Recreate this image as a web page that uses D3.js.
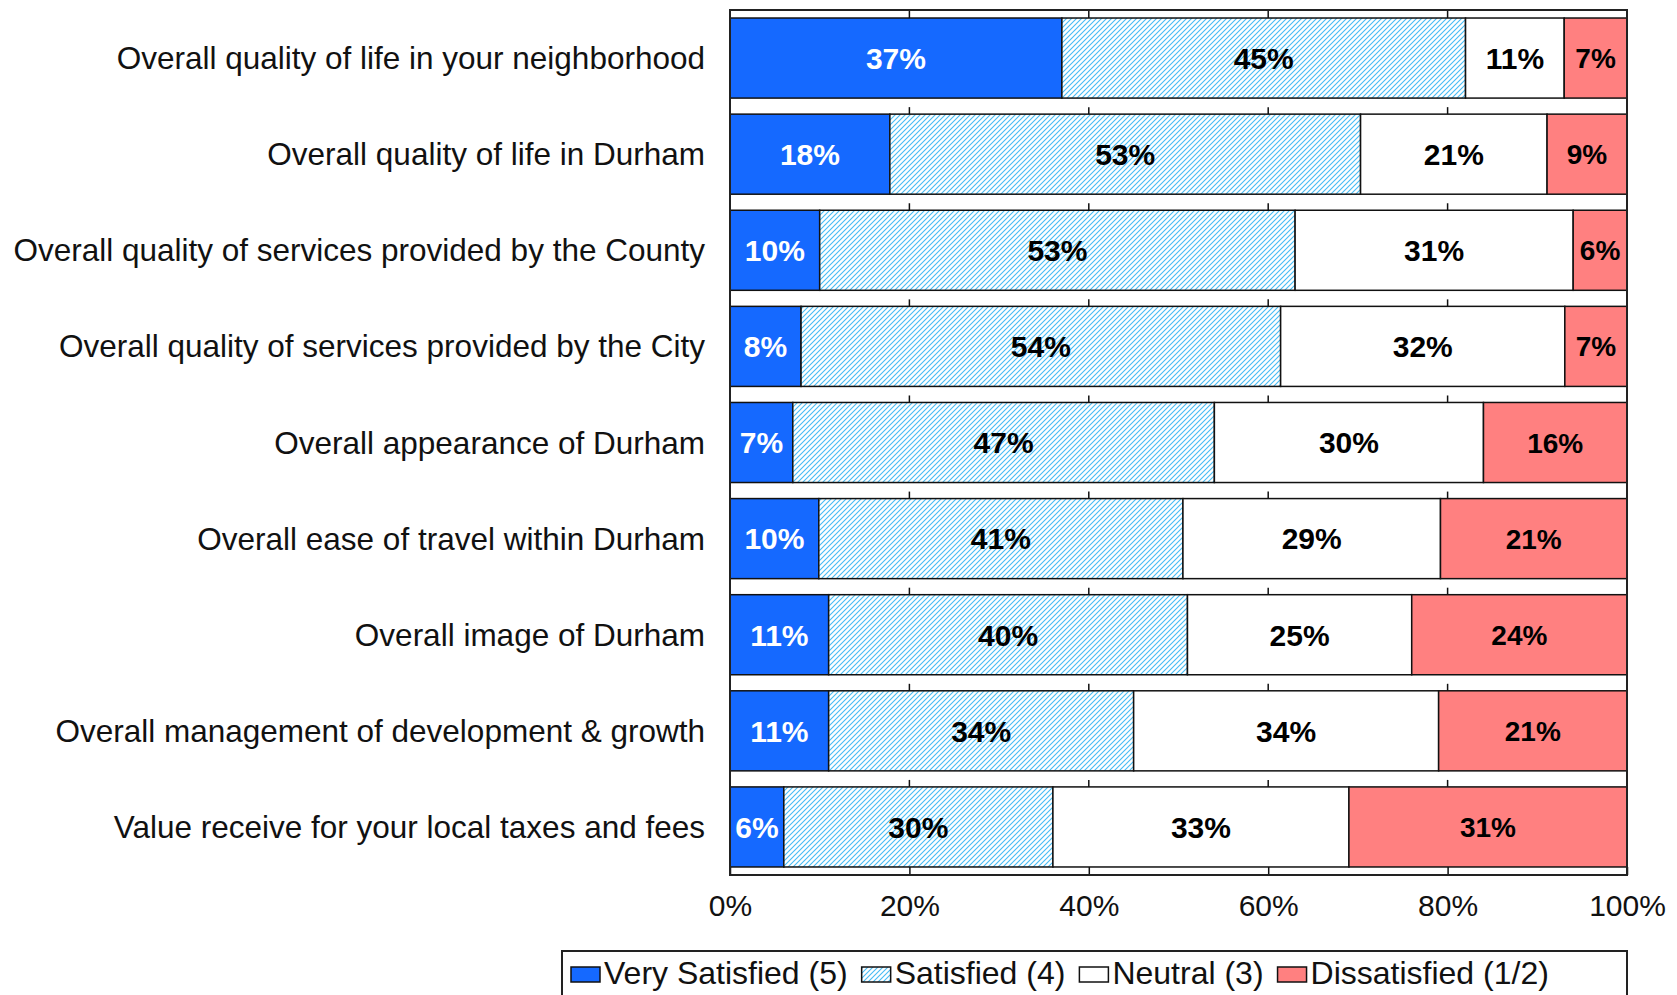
<!DOCTYPE html>
<html>
<head>
<meta charset="utf-8">
<script src="https://cdn.jsdelivr.net/npm/d3@7"></script>
<style>
    body { margin: 0; background: #fff; }
    text { font-family: "Liberation Sans", Arial, sans-serif; }
</style>
</head>
<body>
<div id="chart"></div>
<script>
// Datos del gráfico (en %)
const categories = [
    "Overall quality of life in your neighborhood",
    "Overall quality of life in Durham",
    "Overall quality of services provided by the County",
    "Overall quality of services provided by the City",
    "Overall appearance of Durham",
    "Overall ease of travel within Durham",
    "Overall image of Durham",
    "Overall management of development & growth",
    "Value receive for your local taxes and fees"
];
const verySatisfied = [37, 18, 10, 8, 7, 10, 11, 11, 6];
const satisfied = [45, 53, 53, 54, 47, 41, 40, 34, 30];
const neutral = [11, 21, 31, 32, 30, 29, 25, 34, 33];
const dissatisfied = [7, 9, 6, 7, 16, 21, 24, 21, 31];
const seriesNames = ["Very Satisfied (5)", "Satisfied (4)", "Neutral (3)", "Dissatisfied (1/2)"];
const xTicks = [0, 20, 40, 60, 80, 100];

// Tabla para d3.stack
const keys = ["v5", "v4", "v3", "v12"];
const rows = categories.map((c, i) => ({
    category: c,
    v5: verySatisfied[i],
    v4: satisfied[i],
    v3: neutral[i],
    v12: dissatisfied[i]
}));

// Tamaño del SVG
const width = 1677;
const height = 995;
const plot = { left: 730, right: 1627, top: 10, bottom: 875 };

const fills = ["#1569FF", "url(#hatch)", "#FFFFFF", "#FF8080"];
const labelColors = ["#FFFFFF", "#000000", "#000000", "#000000"];
const labelSizes = [30, 30, 30, 28];

const svg = d3.select("#chart")
    .append("svg")
    .attr("width", width)
    .attr("height", height);

// Patrón rayado para "Satisfied"
const defs = svg.append("defs");
const hatch = defs.append("pattern")
    .attr("id", "hatch")
    .attr("patternUnits", "userSpaceOnUse")
    .attr("width", 5)
    .attr("height", 5);
hatch.append("rect")
    .attr("width", 5)
    .attr("height", 5)
    .attr("fill", "#fff");
hatch.append("path")
    .attr("d", "M-1,1 l2,-2 M0,5 l5,-5 M4,6 l2,-2")
    .attr("stroke", "#45BCF5")
    .attr("stroke-width", 1.1);

// Escalas
const xScale = d3.scaleLinear()
    .domain([0, 1])
    .range([plot.left, plot.right]);

const yScale = d3.scaleBand()
    .domain(categories)
    .range([plot.top, plot.bottom])
    .paddingInner(0.167)
    .paddingOuter(0.0835);

// Apilado al 100%
const stacked = d3.stack()
    .keys(keys)
    .offset(d3.stackOffsetExpand)(rows);

// Marcas de la cuadrícula encima de cada barra
const gridTicks = xTicks.filter(t => t > 0 && t < 100);
svg.append("g")
    .selectAll("line")
    .data(d3.cross(categories, gridTicks))
    .join("line")
    .attr("x1", d => xScale(d[1] / 100))
    .attr("x2", d => xScale(d[1] / 100))
    .attr("y1", d => yScale(d[0]) - 7)
    .attr("y2", d => yScale(d[0]))
    .attr("stroke", "#111")
    .attr("stroke-width", 1.5);

// Barras
const layers = svg.append("g")
    .selectAll("g")
    .data(stacked)
    .join("g")
    .attr("fill", (d, i) => fills[i]);

layers.selectAll("rect")
    .data(d => d)
    .join("rect")
    .attr("x", d => xScale(d[0]))
    .attr("y", d => yScale(d.data.category))
    .attr("width", d => xScale(d[1]) - xScale(d[0]))
    .attr("height", yScale.bandwidth())
    .attr("stroke", "#111")
    .attr("stroke-width", 1.5);

// Etiquetas de valores
layers.each(function (layer, li) {
    d3.select(this).selectAll("text")
        .data(layer)
        .join("text")
        .attr("x", d => (xScale(d[0]) + xScale(d[1])) / 2)
        .attr("y", d => yScale(d.data.category) + yScale.bandwidth() / 2)
        .attr("dy", "0.36em")
        .attr("text-anchor", "middle")
        .attr("fill", labelColors[li])
        .style("font-size", labelSizes[li] + "px")
        .style("font-weight", "bold")
        .text(d => d.data[layer.key] + "%");
});

// Etiquetas de categorías
svg.append("g")
    .selectAll("text")
    .data(categories)
    .join("text")
    .attr("x", plot.left - 25)
    .attr("y", d => yScale(d) + yScale.bandwidth() / 2)
    .attr("dy", "0.35em")
    .attr("text-anchor", "end")
    .attr("fill", "#111")
    .style("font-size", "31.5px")
    .text(d => d);

// Eje X
const xAxis = d3.axisBottom(xScale)
    .tickValues(xTicks.map(t => t / 100))
    .tickFormat(d => Math.round(d * 100) + "%")
    .tickSizeInner(-8)
    .tickSizeOuter(0)
    .tickPadding(20);

const axisG = svg.append("g")
    .attr("transform", `translate(0, ${plot.bottom})`)
    .call(xAxis);
axisG.select(".domain").remove();
axisG.selectAll(".tick line").attr("stroke", "#111").attr("stroke-width", 1.5);
axisG.selectAll(".tick text")
    .attr("fill", "#111")
    .style("font-size", "30px")
    .style("font-family", "'Liberation Sans', Arial, sans-serif");

// Borde del área de trazado
svg.append("rect")
    .attr("x", plot.left)
    .attr("y", plot.top)
    .attr("width", plot.right - plot.left)
    .attr("height", plot.bottom - plot.top)
    .attr("fill", "none")
    .attr("stroke", "#222")
    .attr("stroke-width", 2);

// Leyenda
const legend = svg.append("g");
legend.append("rect")
    .attr("x", 562)
    .attr("y", 951)
    .attr("width", plot.right - 562)
    .attr("height", 70)
    .attr("fill", "#fff")
    .attr("stroke", "#222")
    .attr("stroke-width", 2);

let lx = 571;
seriesNames.forEach((name, i) => {
    legend.append("rect")
        .attr("x", lx)
        .attr("y", 967)
        .attr("width", 29)
        .attr("height", 15)
        .attr("fill", fills[i])
        .attr("stroke", "#111")
        .attr("stroke-width", 1.5);
    const t = legend.append("text")
        .attr("x", lx + 33)
        .attr("y", 984)
        .attr("fill", "#111")
        .style("font-size", "32px")
        .text(name);
    lx += 33 + t.node().getComputedTextLength() + 14;
});
</script>
</body>
</html>
